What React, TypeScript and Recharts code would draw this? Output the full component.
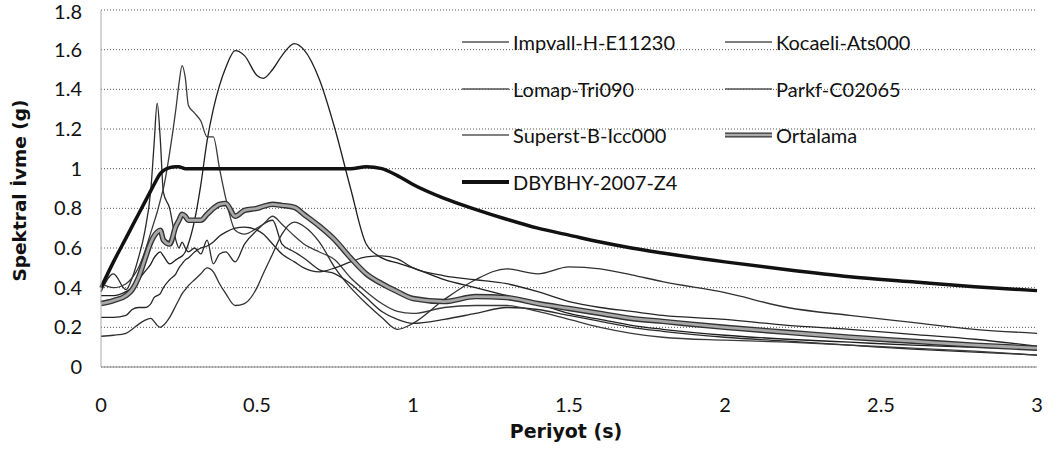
import React from 'react';
import { LineChart, Line, XAxis, YAxis, CartesianGrid, Legend } from 'recharts';

const periods = [0, 0.04, 0.08, 0.1, 0.12, 0.14, 0.16, 0.17, 0.18, 0.19, 0.2, 0.22, 0.24, 0.25, 0.26, 0.27, 0.28, 0.3, 0.32, 0.34, 0.36, 0.38, 0.4, 0.43, 0.46, 0.5, 0.52, 0.55, 0.58, 0.62, 0.65, 0.7, 0.75, 0.8, 0.85, 0.9, 0.95, 1.0, 1.1, 1.2, 1.3, 1.4, 1.5, 1.6, 1.7, 1.8, 2.0, 2.2, 2.4, 2.6, 2.8, 3.0];

const impvall = [0.38, 0.47, 0.39, 0.45, 0.55, 0.68, 0.9, 1.12, 1.33, 1.15, 0.88, 0.8, 0.64, 0.6, 0.63, 0.6, 0.58, 0.6, 0.57, 0.64, 0.52, 0.57, 0.58, 0.53, 0.62, 0.69, 0.72, 0.74, 0.62, 0.58, 0.55, 0.49, 0.47, 0.42, 0.35, 0.28, 0.24, 0.22, 0.24, 0.27, 0.3, 0.29, 0.26, 0.23, 0.2, 0.18, 0.15, 0.13, 0.11, 0.09, 0.075, 0.06];
const kocaeli = [0.36, 0.36, 0.38, 0.4, 0.44, 0.48, 0.52, 0.55, 0.57, 0.58, 0.56, 0.52, 0.54, 0.55, 0.56, 0.58, 0.62, 0.74, 0.92, 1.14, 1.3, 1.42, 1.51, 1.595, 1.57, 1.47, 1.455, 1.5, 1.57, 1.63, 1.6, 1.45, 1.2, 0.9, 0.62, 0.55, 0.525, 0.5, 0.44, 0.4, 0.36, 0.32, 0.27, 0.24, 0.21, 0.19, 0.16, 0.14, 0.125, 0.11, 0.1, 0.09];
const lomap = [0.42, 0.4, 0.42, 0.45, 0.5, 0.58, 0.68, 0.73, 0.78, 0.84, 0.9, 1.08, 1.3, 1.43, 1.52, 1.46, 1.32, 1.28, 1.24, 1.16, 1.16, 1.0, 0.85, 0.69, 0.67, 0.7, 0.72, 0.76, 0.72, 0.66, 0.62, 0.58, 0.54, 0.45, 0.38, 0.32, 0.28, 0.27, 0.3, 0.31, 0.31, 0.28, 0.24, 0.2, 0.17, 0.15, 0.135, 0.125, 0.11, 0.095, 0.08, 0.06];
const parkf = [0.155, 0.16, 0.17, 0.19, 0.215, 0.235, 0.245, 0.23, 0.21, 0.2, 0.21, 0.25, 0.31, 0.34, 0.37, 0.39, 0.41, 0.44, 0.47, 0.5, 0.48, 0.42, 0.37, 0.31, 0.32, 0.4, 0.47, 0.57, 0.67, 0.73, 0.71, 0.63, 0.5, 0.4, 0.32, 0.25, 0.19, 0.22, 0.34, 0.44, 0.495, 0.47, 0.505, 0.495, 0.465, 0.43, 0.375, 0.3, 0.26, 0.225, 0.19, 0.17];
const superst = [0.25, 0.25, 0.26, 0.29, 0.3, 0.3, 0.32, 0.35, 0.36, 0.37, 0.4, 0.44, 0.47, 0.5, 0.52, 0.54, 0.55, 0.58, 0.6, 0.61, 0.63, 0.66, 0.68, 0.7, 0.705, 0.69, 0.67, 0.62, 0.57, 0.53, 0.5, 0.48, 0.5, 0.53, 0.555, 0.56, 0.545, 0.5, 0.46, 0.44, 0.42, 0.38, 0.33, 0.3, 0.28, 0.26, 0.24, 0.21, 0.19, 0.165, 0.14, 0.105];
const ortalama = [0.32, 0.335, 0.36, 0.39, 0.45, 0.54, 0.63, 0.66, 0.68, 0.69, 0.64, 0.62, 0.71, 0.74, 0.77, 0.76, 0.74, 0.74, 0.74, 0.77, 0.8, 0.82, 0.825, 0.76, 0.79, 0.8, 0.81, 0.82, 0.815, 0.805, 0.77, 0.71, 0.64, 0.55, 0.47, 0.42, 0.38, 0.345, 0.33, 0.355, 0.35, 0.32, 0.295, 0.27, 0.245, 0.23, 0.2, 0.175, 0.15, 0.13, 0.11, 0.095];
const dbybhy = [0.4, 0.53, 0.65, 0.71, 0.77, 0.83, 0.89, 0.92, 0.95, 0.975, 0.99, 1.005, 1.01, 1.01, 1.005, 1.0, 1.0, 1.0, 1.0, 1.0, 1.0, 1.0, 1.0, 1.0, 1.0, 1.0, 1.0, 1.0, 1.0, 1.0, 1.0, 1.0, 1.0, 1.0, 1.01, 1.0, 0.965, 0.92, 0.85, 0.795, 0.745, 0.7, 0.665, 0.63, 0.6, 0.575, 0.53, 0.49, 0.455, 0.43, 0.405, 0.385];

const seriesNames = ['Impvall-H-E11230', 'Kocaeli-Ats000', 'Lomap-Tri090', 'Parkf-C02065', 'Superst-B-Icc000', 'Ortalama', 'DBYBHY-2007-Z4'];
const seriesKeys = ['impvall', 'kocaeli', 'lomap', 'parkf', 'superst', 'ortalama', 'dbybhy'];
const xTicks = [0, 0.5, 1, 1.5, 2, 2.5, 3];
const yTicks = [0, 0.2, 0.4, 0.6, 0.8, 1, 1.2, 1.4, 1.6, 1.8];
const xTitle = 'Periyot (s)';
const yTitle = 'Spektral İvme (g)';

const data = periods.map((p, i) => ({
  period: p,
  impvall: impvall[i],
  kocaeli: kocaeli[i],
  lomap: lomap[i],
  parkf: parkf[i],
  superst: superst[i],
  ortalama: ortalama[i],
  dbybhy: dbybhy[i],
}));

const recordColors: Record<string, string> = {
  impvall: '#2a2a2a',
  kocaeli: '#1e1e1e',
  lomap: '#3a3a3a',
  parkf: '#303030',
  superst: '#262626',
};

const LegendSample = ({ k }: { k: string }) => {
  if (k === 'ortalama') {
    return (
      <svg width={47} height={10}>
        <line x1={0} y1={5} x2={47} y2={5} stroke="#333" strokeWidth={5} />
        <line x1={0} y1={5} x2={47} y2={5} stroke="#aaa" strokeWidth={2.4} />
      </svg>
    );
  }
  if (k === 'dbybhy') {
    return (
      <svg width={47} height={10}>
        <line x1={0} y1={5} x2={47} y2={5} stroke="#111" strokeWidth={4} />
      </svg>
    );
  }
  return (
    <svg width={47} height={10}>
      <line x1={0} y1={5} x2={47} y2={5} stroke="#555" strokeWidth={1.3} />
    </svg>
  );
};

const LegendContent = () => (
  <div style={{ position: 'relative', width: 460, height: 170, fontFamily: 'Lato', fontSize: 20, color: '#111' }}>
    {seriesKeys.map((k, i) => {
      const col = i % 2;
      const row = Math.floor(i / 2);
      return (
        <div
          key={k}
          style={{ position: 'absolute', left: col * 263, top: row * 46.7, height: 24, display: 'flex', alignItems: 'center', whiteSpace: 'nowrap' }}
        >
          <LegendSample k={k} />
          <span style={{ marginLeft: 4, lineHeight: '24px' }}>{seriesNames[i]}</span>
        </div>
      );
    })}
  </div>
);

const YTitle = (props: any) => {
  const vb = props.viewBox || { y: 10, height: 357 };
  const cx = 19;
  const cy = vb.y + vb.height / 2 + 2;
  return (
    <text
      x={cx}
      y={cy}
      transform={`rotate(-90 ${cx} ${cy})`}
      textAnchor="middle"
      dominantBaseline="central"
      style={{ fontFamily: 'DejaVu Sans', fontWeight: 700, fontSize: 18.5 }}
      fill="#111"
    >
      {yTitle}
    </text>
  );
};

const XTitle = (props: any) => {
  const vb = props.viewBox || { x: 101, y: 367, width: 936, height: 71 };
  const cx = vb.x + vb.width / 2 - 3;
  const cy = vb.y + vb.height;
  return (
    <text
      x={cx}
      y={cy}
      textAnchor="middle"
      style={{ fontFamily: 'DejaVu Sans', fontWeight: 700, fontSize: 19 }}
      fill="#111"
    >
      {xTitle}
    </text>
  );
};

export default function App() {
  return (
    <div style={{ position: 'absolute', left: 0, top: 0, width: 1055, height: 456, background: '#fff' }}>
      <LineChart width={1055} height={456} data={data} margin={{ top: 10, right: 18, bottom: 18, left: 0 }}>
        <CartesianGrid vertical={false} stroke="#555" strokeDasharray="1 2" />
        <XAxis
          dataKey="period"
          type="number"
          domain={[0, 3]}
          ticks={xTicks}
          height={71}
          tickLine={false}
          tickSize={0}
          tickMargin={31}
          axisLine={{ stroke: '#888' }}
          tick={{ fontFamily: 'Lato', fontSize: 20, fill: '#111' }}
          label={XTitle}
          allowDecimals
        />
        <YAxis
          type="number"
          domain={[0, 1.8]}
          ticks={yTicks}
          width={101}
          tickLine={false}
          tickSize={0}
          tickMargin={19}
          axisLine={{ stroke: '#aaa' }}
          tick={{ fontFamily: 'Lato', fontSize: 20, fill: '#111' }}
          label={YTitle}
        />
        <Legend
          layout="vertical"
          align="center"
          verticalAlign="middle"
          content={LegendContent}
          wrapperStyle={{ left: 462, top: 30, width: 480, height: 170 }}
        />
        {seriesKeys.slice(0, 5).map((k, i) => (
          <Line
            key={k}
            dataKey={k}
            name={seriesNames[i]}
            type="monotone"
            stroke={recordColors[k]}
            strokeWidth={1.3}
            dot={false}
            isAnimationActive={false}
          />
        ))}
        <Line dataKey="ortalama" name="Ortalama-outline" legendType="none" type="monotone" stroke="#333" strokeWidth={5.5} dot={false} isAnimationActive={false} />
        <Line dataKey="ortalama" name="Ortalama" type="monotone" stroke="#a8a8a8" strokeWidth={2.8} dot={false} isAnimationActive={false} />
        <Line dataKey="dbybhy" name="DBYBHY-2007-Z4" type="monotone" stroke="#111" strokeWidth={3.5} dot={false} isAnimationActive={false} />
      </LineChart>
    </div>
  );
}
